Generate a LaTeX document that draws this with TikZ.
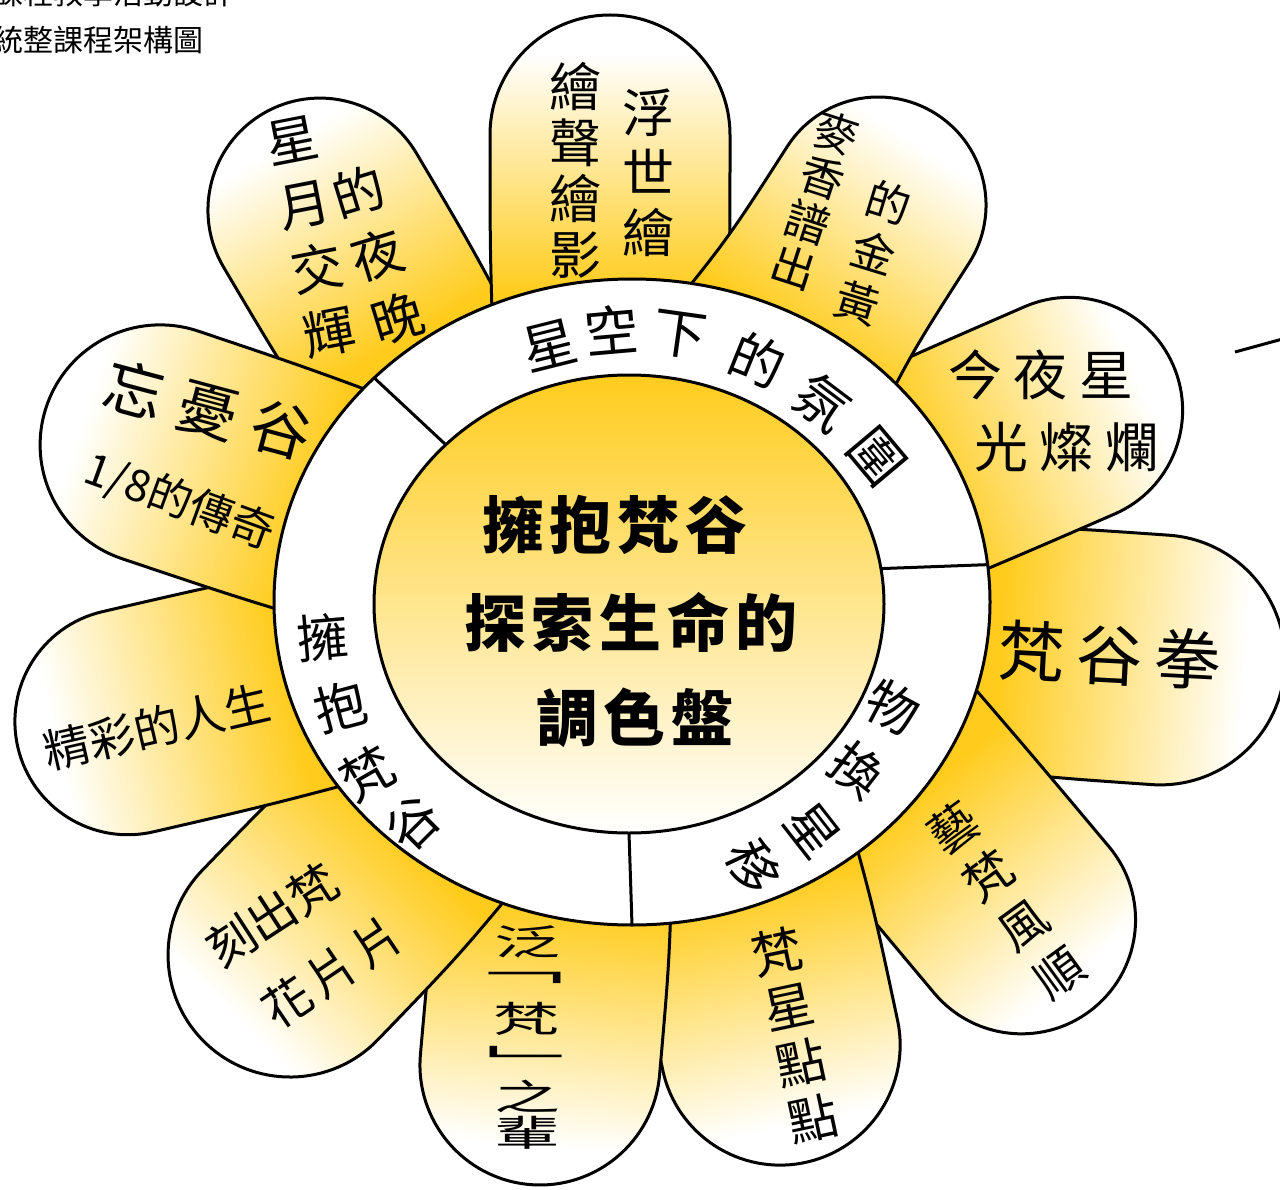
\documentclass[tikz,border=0pt]{standalone}
\usepackage{fontspec}
\setmainfont{Noto Sans CJK TC}
\usetikzlibrary{shapes.geometric}
\definecolor{petalgold}{RGB}{255,204,30}
\pgfdeclarehorizontalshading{petalshade}{100bp}{color(0bp)=(petalgold); color(39bp)=(petalgold); color(70bp)=(white); color(100bp)=(white)}
% #1,#2 base point, #3 axis angle, #4 length to tip centre, #5 tip radius, #6 base half width
\newcommand\drawpetal[6]{%
  \begin{scope}[transform canvas={shift={(#1,#2)},rotate=#3}]
    \shadedraw[shading=petalshade, line width=3pt] (0,-#6) .. controls ({0.55*#4},-#5) .. (#4,-#5)
      arc[start angle=-90,end angle=90,radius=#5] .. controls ({0.55*#4},#5) .. (0,#6) -- cycle;
  \end{scope}}
\newcommand\squash[1]{\scalebox{1.1}[0.6]{#1}}
\newcommand\squashb[1]{\scalebox{1.7}[0.6]{#1}}
\begin{document}
\begin{tikzpicture}[x=1pt,y=-1pt,line width=3pt,
  col/.style 2 args={inner sep=0pt, align=center, font=\fontsize{#1}{#2}\selectfont},
  txt/.style={inner sep=0pt, font=\fontsize{#1}{#1}\selectfont},
  ctr/.style={inner sep=0pt, font=\bfseries\fontsize{62}{62}\selectfont},
  ell/.style={ellipse, draw, line width=3pt, inner sep=0pt, outer sep=0pt}]
\clip (0,0) rectangle (1280,1190);
\fill[white] (0,0) rectangle (1280,1190);

% header
\node[txt=30, anchor=west] (h1) at (-8,-7) {課程教學活動設計};
\node[txt=30, anchor=west] (h2) at (-8,40) {統整課程架構圖};

% petals (bottom to top)
\drawpetal{890}{641}{-4}{270.7}{125}{115}
\drawpetal{822}{518}{23.5}{270}{113}{110}
\drawpetal{848}{713}{-50}{270}{114}{112}
\drawpetal{724}{781}{-78}{270}{120}{110}
\drawpetal{563.5}{796}{-95}{270}{120}{110}
\drawpetal{477.6}{760.8}{-134}{270}{122}{110}
\drawpetal{450}{430}{120.6}{255.5}{112}{105}
\drawpetal{391}{661}{-167}{270}{113}{108}
\drawpetal{416}{531}{161.4}{270}{120}{115}
\drawpetal{610}{400}{90}{265}{120}{115}
\drawpetal{740}{420}{57.3}{255.5}{108}{125}

% ring and core
\node[ell, fill=white, minimum width=716pt, minimum height=646pt] (ring) at (632,602) {};
\node[ell, top color=petalgold, bottom color=white, minimum width=510pt, minimum height=458pt] (core) at (629,604) {};
\draw (core.139) -- (ring.139);
\draw (core.8) -- (ring.6);
\draw (core.south) -- (ring.south);

% stray line at right
\coordinate (s1) at (1235,352);
\coordinate (s2) at (1290,337);
\draw (s1) -- (s2);

% centre text
\node[ctr] (c1) at (615,525) {擁\hspace{6pt}抱\hspace{6pt}梵\hspace{6pt}谷};
\node[ctr] (c2) at (631,622) {探\hspace{6pt}索\hspace{6pt}生\hspace{6pt}命\hspace{6pt}的};
\node[ctr] (c3) at (635,718) {調\hspace{6pt}色\hspace{6pt}盤};

% ring text
\foreach \ch/\x/\y/\r [count=\i] in {星/550/345/14, 空/612/330/5, 下/680/335/-8, 的/757/360/-22, 氛/822/402/-37, 圍/877/457/-50}
  \node[txt=54, rotate=\r] (ra\i) at (\x,\y) {\ch};
\foreach \ch/\x/\y/\r [count=\i] in {擁/323/637/5, 抱/340/707/15, 梵/367/773/30, 谷/413/823/45}
  \node[txt=52, rotate=\r] (rb\i) at (\x,\y) {\ch};
\foreach \ch/\x/\y/\r [count=\i] in {物/893/707/-28, 換/857/770/-38, 星/813/830/-52, 移/753/867/-65}
  \node[txt=52, rotate=\r] (rc\i) at (\x,\y) {\ch};

% petal texts
\node[col={52}{60}] (p1a) at (648,173) {浮\\世\\繪};
\node[col={52}{56}] (p1b) at (575,170) {繪\\聲\\繪\\影};
\node[col={44}{47}, rotate=-18] (p2a) at (815,200) {麥\\香\\譜\\出};
\node[col={44}{52}, rotate=-17] (p2b) at (873,253) {的\\金\\黃};
\node[txt=54] (p3a) at (1041,375) {今\hspace{12pt}夜\hspace{12pt}星};
\node[txt=54] (p3b) at (1067,447) {光\hspace{12pt}燦\hspace{12pt}爛};
\node[txt=66, rotate=-3] (p4) at (1110,655) {梵\hspace{12pt}谷\hspace{12pt}拳};
\node[col={48}{60}, rotate=36] (p5) at (1006,900) {藝\\梵\\風\\順};
\node[col={50}{57}, rotate=12] (p6) at (795,1035) {梵\\星\\點\\點};
\node[txt=60] (p7a) at (527,942) {\squash{泛}};
\node[txt=60] (p7b) at (512,978) {\squashb{﹁}};
\node[txt=60] (p7c) at (526,1019) {\squash{梵}};
\node[txt=60] (p7d) at (538,1061) {\squashb{﹂}};
\node[txt=60] (p7e) at (527,1096) {\squash{之}};
\node[txt=60] (p7f) at (527,1133) {\squash{輩}};
\node[txt=48, rotate=33] (p8a) at (272,915) {刻出梵};
\node[txt=48, rotate=34] (p8b) at (332,972) {花\hspace{6pt}片\hspace{6pt}片};
\node[txt=46, rotate=13] (p9) at (157,727) {精彩的人生};
\node[txt=60, rotate=-15] (p10a) at (208,410) {忘\hspace{16pt}憂\hspace{16pt}谷};
\node[txt=44, rotate=-20] (p10b) at (180,502) {1/8的傳奇};
\node[col={52}{65}, rotate=11] (p11a) at (311,237) {星\\月\\交\\輝};
\node[col={52}{66}, rotate=17] (p11b) at (378,255) {的\\夜\\晚};
\end{tikzpicture}
\end{document}
